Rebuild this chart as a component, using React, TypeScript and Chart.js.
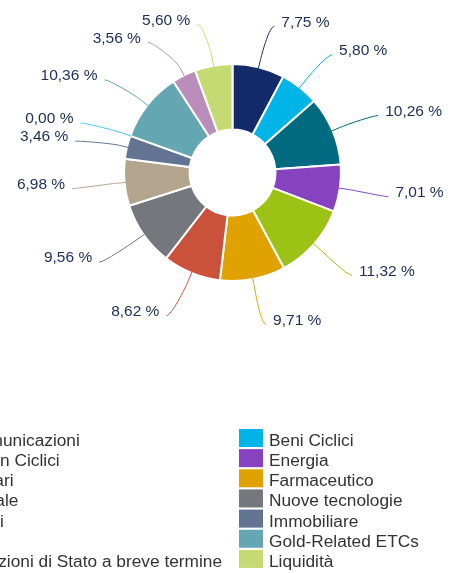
import React, { useEffect, useRef } from "react";
import { Chart, registerables } from "chart.js";

Chart.register(...registerables);

const categories = [
  "Telecomunicazioni",
  "Beni Ciclici",
  "Beni Non Ciclici",
  "Energia",
  "Finanziari",
  "Farmaceutico",
  "Industriale",
  "Nuove tecnologie",
  "Materiali",
  "Immobiliare",
  "Utilities",
  "Gold-Related ETCs",
  "Obbligazioni di Stato a breve termine",
  "Liquidità",
];

const values = [7.75, 5.8, 10.26, 7.01, 11.32, 9.71, 8.62, 9.56, 6.98, 3.46, 0.0, 10.36, 3.56, 5.6];

const colors = [
  "#132b69",
  "#00b4e8",
  "#006a80",
  "#8742bf",
  "#9bc214",
  "#e0a200",
  "#cb523a",
  "#74777b",
  "#b3a48d",
  "#627492",
  "#4cc6ee",
  "#65a6b3",
  "#b98cb9",
  "#c5da72",
];

const FONT = "'Liberation Sans', Arial, Helvetica, sans-serif";
const LABEL_COLOR = "#1c2d5c";
const LEGEND_COLOR = "#333333";

const fmt = (v: number) => v.toFixed(2).replace(".", ",") + " %";

const pieLabels = {
  id: "pieLabels",
  afterDatasetsDraw(chart: any) {
    const ctx = chart.ctx as CanvasRenderingContext2D;
    const meta = chart.getDatasetMeta(0);
    const dist = 45;
    const minGap = 18;
    const items = meta.data.map((arc: any, i: number) => {
      const p = arc.getProps(["x", "y", "startAngle", "endAngle", "outerRadius"], true);
      const mid = (p.startAngle + p.endAngle) / 2;
      const cos = Math.cos(mid);
      const sin = Math.sin(mid);
      const R = p.outerRadius - 1;
      const dir = cos >= -1e-9 ? 1 : -1;
      const rl = R + dist;
      return { i, p, cos, sin, R, dir, rl, ly: p.y + sin * rl };
    });
    // simple overlap avoidance per side (push downward)
    [1, -1].forEach((side) => {
      const s = items.filter((it: any) => it.dir === side).sort((a: any, b: any) => a.ly - b.ly);
      for (let k = 1; k < s.length; k++) {
        if (s[k].ly - s[k - 1].ly < minGap) s[k].ly = s[k - 1].ly + minGap;
      }
    });
    ctx.save();
    ctx.font = `15.5px ${FONT}`;
    ctx.lineWidth = 1;
    items.forEach((it: any) => {
      const { i, p, cos, sin, R, dir, rl, ly } = it;
      const dy = Math.max(-1, Math.min(1, (ly - p.y) / rl));
      const pad = dir > 0 ? 5 : 8.5;
      const lx = p.x + dir * (Math.cos(Math.asin(dy)) * rl + pad);
      const tx = p.x + cos * R;
      const ty = p.y + sin * R;
      const bo = dist / 5;
      const bx = p.x + cos * (R + bo);
      const by = p.y + sin * (R + bo);
      ctx.strokeStyle = colors[i];
      ctx.beginPath();
      ctx.moveTo(lx, ly + 2);
      ctx.bezierCurveTo(lx - dir * 5, ly + 2, 2 * bx - tx, 2 * by - ty, bx, by);
      ctx.lineTo(tx, ty);
      ctx.stroke();
      ctx.fillStyle = LABEL_COLOR;
      ctx.textAlign = dir > 0 ? "left" : "right";
      ctx.textBaseline = "middle";
      ctx.fillText(fmt(values[i]), lx + dir * 7, ly - 2);
    });
    ctx.restore();
  },
};

const gridLegend = {
  id: "gridLegend",
  afterDraw(chart: any) {
    const ctx = chart.ctx as CanvasRenderingContext2D;
    const meta = chart.getDatasetMeta(0);
    const cx = meta.data[0].x;
    ctx.save();
    ctx.font = `17.3px ${FONT}`;
    const symW = 24;
    const symH = 18;
    const symGap = 6;
    const itemDist = 17;
    const maxText = Math.max(...categories.map((c) => ctx.measureText(c).width));
    const colW = symW + symGap + maxText + itemDist;
    const total = 2 * colW - itemDist;
    const left = cx - 2 - total / 2;
    const top = 429;
    const rowH = 20.15;
    ctx.textAlign = "left";
    ctx.textBaseline = "alphabetic";
    categories.forEach((c, i) => {
      const col = i % 2;
      const row = Math.floor(i / 2);
      const x = left + col * colW;
      const y = top + row * rowH;
      ctx.fillStyle = colors[i];
      ctx.fillRect(x, y, symW, symH);
      ctx.fillStyle = LEGEND_COLOR;
      ctx.fillText(c, x + symW + symGap, y + 17);
    });
    ctx.restore();
  },
};

export default function App() {
  const ref = useRef<HTMLCanvasElement>(null);
  useEffect(() => {
    const chart = new Chart(ref.current as HTMLCanvasElement, {
      type: "doughnut",
      data: {
        labels: categories,
        datasets: [
          {
            data: values,
            backgroundColor: colors,
            borderColor: "#ffffff",
            borderWidth: 2,
            hoverOffset: 0,
          },
        ],
      },
      options: {
        animation: false,
        responsive: true,
        maintainAspectRatio: false,
        radius: 108.5,
        cutout: "39.6%",
        layout: { padding: { left: 20, right: 7, top: 10, bottom: 238 } },
        plugins: {
          legend: { display: false },
          tooltip: { enabled: false },
        },
      } as any,
      plugins: [pieLabels, gridLegend],
    });
    return () => chart.destroy();
  }, []);
  return (
    <div style={{ position: "absolute", left: 0, top: 0, width: 452, height: 573, background: "#fff" }}>
      <canvas ref={ref} style={{ display: "block" }} />
    </div>
  );
}
